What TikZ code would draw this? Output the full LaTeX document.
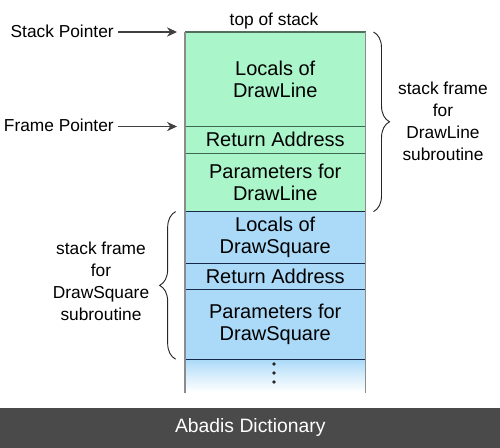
\documentclass[tikz,border=0pt]{standalone}
\usepackage{fontspec}
\setmainfont{Liberation Sans}
\usepackage{xcolor}
\usetikzlibrary{arrows.meta,positioning,decorations.pathreplacing}

\definecolor{framegreen}{RGB}{170,246,202}
\definecolor{frameblue}{RGB}{170,218,248}
\definecolor{greenrule}{RGB}{62,104,78}
\definecolor{bluerule}{RGB}{24,40,74}
\definecolor{footgray}{RGB}{74,74,74}

\begin{document}
\begin{tikzpicture}[x=0.75pt,y=-0.75pt,>=Stealth]
  \tikzset{
    cell/.style={minimum width=135pt, inner sep=0pt, align=center, anchor=north,
      font=\fontsize{15}{16.5}\selectfont},
    greencell/.style={cell, fill=framegreen},
    bluecell/.style={cell, fill=frameblue},
    lbl/.style={font=\fontsize{13}{16.5}\selectfont, align=center, inner sep=0pt},
    ptr/.style={draw=black!75, line width=0.8pt, -{Stealth[length=7.5pt,width=7pt]},
      shorten >=6pt, shorten <=3pt},
    brc/.style={decorate, decoration={brace, amplitude=12pt}, draw=black!85, line width=0.7pt},
    edge/.style={draw=gray!90, line width=1pt},
    greensep/.style={draw=greenrule, line width=0.8pt},
    bluesep/.style={draw=bluerule, line width=0.8pt}
  }
  \useasboundingbox (0,0) rectangle (500,448);

  % DrawLine frame
  \node[greencell, minimum height=70.5pt] (loc1) at (275.25,32) {Locals of\\DrawLine};
  \node[greencell, minimum height=19.5pt, below=0pt of loc1] (ret1) {Return Address};
  \node[greencell, minimum height=43.5pt, below=0pt of ret1] (par1) {Parameters for\\DrawLine};

  % DrawSquare frame
  \node[bluecell, minimum height=38.25pt, below=0pt of par1] (loc2) {Locals of\\DrawSquare};
  \node[bluecell, minimum height=19.5pt, below=0pt of loc2] (ret2) {Return Address};
  \node[bluecell, minimum height=51.75pt, below=0pt of ret2] (par2) {Parameters for\\DrawSquare};
  \node[cell, minimum height=24.75pt, below=0pt of par2, top color=frameblue,
    bottom color=white, middle color=frameblue!45] (tail) {};
  \foreach \dy in {364,373,382}
    \fill[black!85] (274,\dy) circle (1.35pt);

  % rules
  \draw[draw=greenrule!70!gray, line width=0.8pt] (loc1.north west) -- (loc1.north east);
  \draw[greensep] (ret1.north west) -- (ret1.north east);
  \draw[greensep] (par1.north west) -- (par1.north east);
  \draw[bluesep] (loc2.north west) -- (loc2.north east);
  \draw[bluesep] (ret2.north west) -- (ret2.north east);
  \draw[bluesep] (par2.north west) -- (par2.north east);
  \draw[bluesep] (tail.north west) -- (tail.north east);
  \draw[edge] (loc1.north west) -- (tail.south west);
  \draw[edge] (loc1.north east) -- (tail.south east);

  \node[lbl, anchor=base] (tos) at (274,26) {top of stack};

  % pointers
  \node[lbl, anchor=east] (sp) at (114,31) {Stack Pointer};
  \node[lbl, anchor=east] (fp) at (114,125) {Frame Pointer};
  \draw[ptr] (sp.east |- loc1.north) -- (loc1.north west);
  \draw[ptr] (fp.east |- ret1.north) -- (ret1.north west);

  % braces
  \draw[brc] ([xshift=6pt]loc1.north east) -- ([xshift=6pt]par1.south east);
  \node[lbl] (dlframe) at (443,121) {stack frame\\for\\DrawLine\\subroutine};
  \draw[brc] ([xshift=-7pt]par2.south west) -- ([xshift=-7pt]loc2.north west);
  \node[lbl] (dsframe) at (101,281) {stack frame\\for\\DrawSquare\\subroutine};

  % footer band
  \node[fill=footgray, text=white, minimum width=375pt, minimum height=30pt, inner sep=0pt,
    anchor=south west, font=\fontsize{14.5}{16}\selectfont] (foot) at (0,448) {Abadis Dictionary};
\end{tikzpicture}
\end{document}
